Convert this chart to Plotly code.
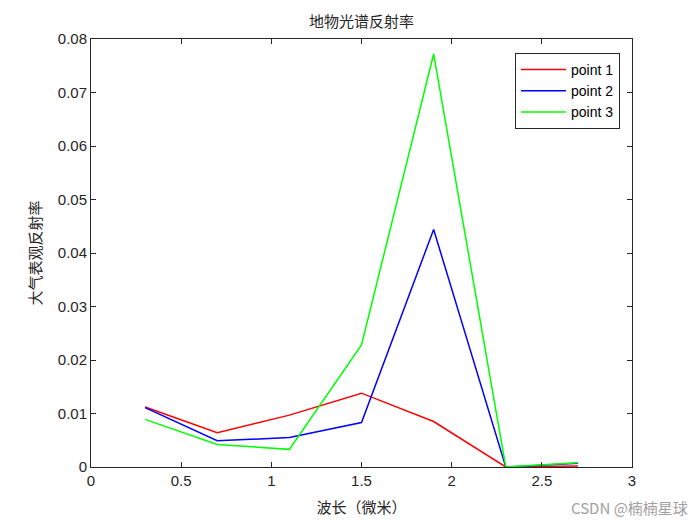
import plotly.graph_objects as go

wavelength = [0.3, 0.7, 1.1, 1.5, 1.9, 2.3, 2.7]
point1 = [0.0112, 0.0064, 0.0097, 0.0138, 0.0085, 0.0, 0.0002]
point2 = [0.0111, 0.0049, 0.0055, 0.0083, 0.0444, 0.0, 0.0007]
point3 = [0.0089, 0.0042, 0.0033, 0.0228, 0.0772, 0.0, 0.0008]
names = ["point 1", "point 2", "point 3"]
colors = ["#FF0000", "#0000FF", "#00FF00"]
x_ticks = [0, 0.5, 1, 1.5, 2, 2.5, 3]
x_tick_labels = ["0", "0.5", "1", "1.5", "2", "2.5", "3"]
y_ticks = [0, 0.01, 0.02, 0.03, 0.04, 0.05, 0.06, 0.07, 0.08]
y_tick_labels = ["0", "0.01", "0.02", "0.03", "0.04", "0.05", "0.06", "0.07", "0.08"]

fig = go.Figure()
for nm, ys, c in zip(names, [point1, point2, point3], colors):
    fig.add_trace(go.Scatter(x=wavelength, y=ys, mode="lines", name=nm,
                             line=dict(color=c, width=1.5)))

axis_common = dict(showline=True, linecolor="#262626", linewidth=1, mirror="ticks",
                   ticks="inside", ticklen=5, tickcolor="#262626", showgrid=False,
                   zeroline=False, tickfont=dict(family="Liberation Sans, Arial", size=15, color="#262626"))

W, H = 692, 517
L, R, T, B = 83, 68, 31, 58
PW, PH = W - L - R, H - T - B

fig.update_layout(
    width=W, height=H,
    margin=dict(l=L, r=R, t=T, b=B),
    paper_bgcolor="white", plot_bgcolor="white",
    title=dict(text="地物光谱反射率", x=(L + PW / 2) / W, xanchor="center",
               y=1 - 14 / H, yanchor="middle",
               font=dict(family="Noto Sans CJK SC", size=15, color="#262626")),
    xaxis=dict(range=[0, 3], tickvals=x_ticks, ticktext=x_tick_labels,
               title=dict(text="波长（微米）", font=dict(family="Noto Sans CJK SC", size=15, color="#262626"), standoff=14),
               **axis_common),
    yaxis=dict(range=[0, 0.08], tickvals=y_ticks, ticktext=y_tick_labels,
               title=dict(text="大气表观反射率", font=dict(family="Noto Sans CJK SC", size=15, color="#262626"), standoff=12),
               **axis_common),
    legend=dict(x=(620 - 91) / PW, xanchor="right", y=1 - (53 - 39) / PH, yanchor="top",
                bordercolor="#262626", borderwidth=1, bgcolor="white",
                font=dict(family="Liberation Sans, Arial", size=14, color="black"),
                itemwidth=45, tracegroupgap=0),
    showlegend=True,
    annotations=[dict(text="CSDN @楠楠星球", xref="paper", yref="paper",
                      x=(682 - L) / PW, xanchor="right", y=-40 / PH, yanchor="middle",
                      showarrow=False,
                      font=dict(family="Noto Sans CJK SC", size=15, color="#A0A0A0"))],
)

fig.write_html("out.html")
